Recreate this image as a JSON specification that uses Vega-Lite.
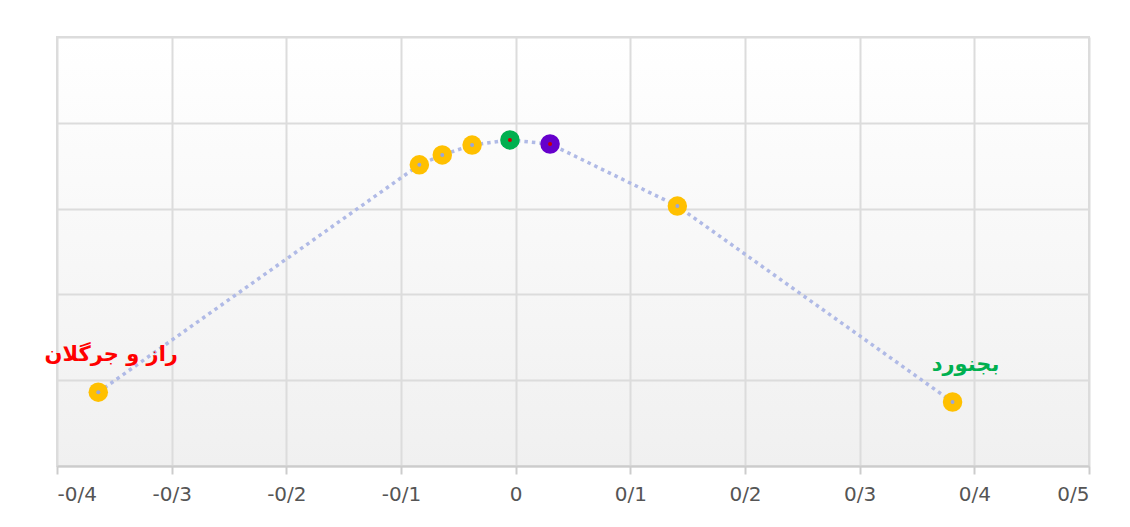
{
  "$schema": "https://vega.github.io/schema/vega-lite/v6.json",
  "width": 1032,
  "height": 429,
  "autosize": "none",
  "padding": {"left": 57, "top": 37, "right": 41, "bottom": 61},
  "background": "#ffffff",
  "data": {"values": [
    {"x": -0.364, "y": 0.86, "group": "normal", "label": "راز و جرگلان"},
    {"x": -0.084, "y": 3.51, "group": "normal", "label": ""},
    {"x": -0.064, "y": 3.625, "group": "normal", "label": ""},
    {"x": -0.038, "y": 3.74, "group": "normal", "label": ""},
    {"x": -0.005, "y": 3.8, "group": "max", "label": ""},
    {"x": 0.030, "y": 3.753, "group": "self", "label": ""},
    {"x": 0.141, "y": 3.03, "group": "normal", "label": ""},
    {"x": 0.381, "y": 0.746, "group": "normal", "label": "بجنورد"}
  ]},
  "encoding": {
    "x": {"field": "x", "type": "quantitative",
      "scale": {"domain": [-0.4, 0.5], "nice": false, "zero": false},
      "axis": {"title": null, "values": [-0.4, -0.3, -0.2, -0.1, 0, 0.1, 0.2, 0.3, 0.4, 0.5],
        "labelExpr": "datum.value == 0 ? '0' : (datum.value < 0 ? '-' : '') + '0/' + round(abs(datum.value) * 10)",
        "labelFont": "DejaVu Sans", "labelFontSize": 20, "labelColor": "#555555", "labelPadding": 10,
        "domainColor": "#cccccc", "domainWidth": 2, "tickColor": "#cccccc", "tickWidth": 2, "tickSize": 8,
        "grid": true, "gridColor": "#dcdcdc", "gridWidth": 2}},
    "y": {"field": "y", "type": "quantitative",
      "scale": {"domain": [0, 5], "nice": false, "zero": false},
      "axis": {"title": null, "values": [0, 1, 2, 3, 4, 5], "labels": false, "ticks": false, "domain": false,
        "grid": true, "gridColor": "#dcdcdc", "gridWidth": 2}}
  },
  "layer": [
    {"mark": {"type": "line", "color": "#b0bae6", "strokeWidth": 3.5, "strokeDash": [3.5, 4]}},
    {"mark": {"type": "point", "filled": true, "size": 380, "opacity": 1},
      "encoding": {"color": {"field": "group", "type": "nominal", "legend": null,
        "scale": {"domain": ["normal", "max", "self"], "range": ["#ffc000", "#00b050", "#6600cc"]}}}},
    {"mark": {"type": "point", "filled": true, "size": 16, "opacity": 1},
      "encoding": {"fill": {"field": "group", "type": "nominal", "legend": null,
        "scale": {"domain": ["normal", "max", "self"], "range": ["#9aa6d8", "#cc0000", "#cc0000"]}}}},
    {"transform": [{"filter": "datum.label != ''"}],
      "mark": {"type": "text", "font": "DejaVu Sans", "fontSize": 21, "fontWeight": "bold", "dy": -37, "dx": 13},
      "encoding": {"text": {"field": "label"},
        "color": {"condition": {"test": "datum.x < 0", "value": "#ff0000"}, "value": "#00b050"}}}
  ],
  "resolve": {"scale": {"color": "independent", "fill": "independent"}},
  "config": {
    "view": {"stroke": "#dcdcdc", "strokeWidth": 2,
      "fill": {"gradient": "linear", "x1": 0, "y1": 0, "x2": 0, "y2": 1,
        "stops": [{"offset": 0, "color": "#ffffff"}, {"offset": 1, "color": "#f0f0f0"}]}}
  }
}
